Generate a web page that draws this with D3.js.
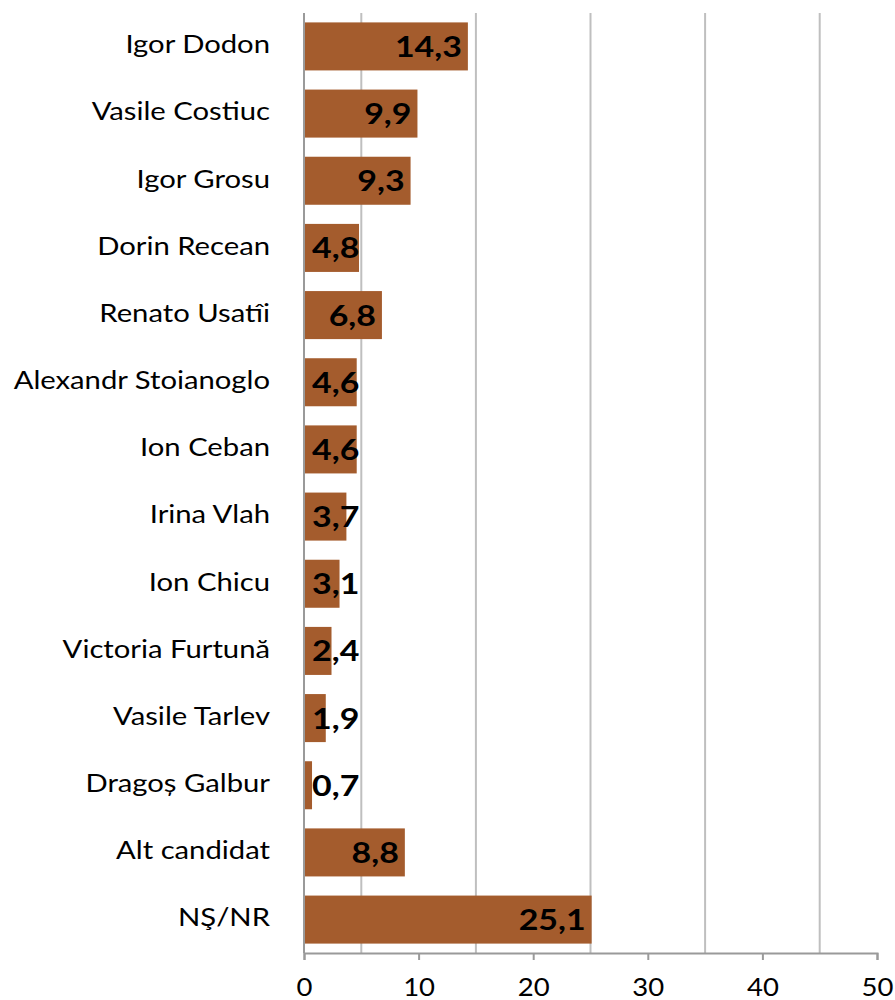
<!DOCTYPE html>
<html>
<head>
<meta charset="utf-8">
<script src="https://cdn.jsdelivr.net/npm/d3@7"></script>
<style>
  body { margin: 0; background: #fff; }
  svg text { font-family: Lato, "Open Sans", sans-serif; }
</style>
</head>
<body>
<div id="chart"></div>
<script>
// candidates, top to bottom
const candidates = [
    'Igor Dodon', 'Vasile Costiuc', 'Igor Grosu', 'Dorin Recean', 'Renato Usatîi',
    'Alexandr Stoianoglo', 'Ion Ceban', 'Irina Vlah', 'Ion Chicu', 'Victoria Furtună',
    'Vasile Tarlev', 'Dragoș Galbur', 'Alt candidat', 'NŞ/NR'
];
const shares = [14.3, 9.9, 9.3, 4.8, 6.8, 4.6, 4.6, 3.7, 3.1, 2.4, 1.9, 0.7, 8.8, 25.1];
const xTicks = [0, 10, 20, 30, 40, 50];
const gridValues = [5, 15, 25, 35, 45];

const width = 895, height = 1000;
const margin = { top: 13, right: 18, bottom: 47, left: 304 };
const stretch = 1.17; // the reference font runs wider than Lato

const svg = d3.select('#chart').append('svg')
    .attr('width', width)
    .attr('height', height);

const x = d3.scaleLinear()
    .domain([0, 50])
    .range([margin.left, width - margin.right]);

const y = d3.scaleBand()
    .domain(candidates)
    .range([margin.top, height - margin.bottom])
    .paddingInner(0.285)
    .paddingOuter(0.14);

// vertical gridlines
svg.append('g')
    .selectAll('line')
    .data(gridValues)
    .join('line')
    .attr('x1', d => x(d))
    .attr('x2', d => x(d))
    .attr('y1', margin.top)
    .attr('y2', height - margin.bottom)
    .attr('stroke', '#bfbfbf')
    .attr('stroke-width', 2);

// bars
svg.append('g')
    .selectAll('rect')
    .data(shares)
    .join('rect')
    .attr('x', x(0))
    .attr('y', (d, i) => y(candidates[i]))
    .attr('width', d => x(d) - x(0))
    .attr('height', y.bandwidth())
    .attr('fill', '#a45c2d');

// left axis line
svg.append('line')
    .attr('x1', x(0)).attr('x2', x(0))
    .attr('y1', margin.top).attr('y2', height - margin.bottom)
    .attr('stroke', '#9a9a9a')
    .attr('stroke-width', 2);

// bottom axis
const xAxis = svg.append('g')
    .attr('transform', `translate(0,${height - margin.bottom})`)
    .call(d3.axisBottom(x).tickValues(xTicks).tickSize(7).tickPadding(18).tickFormat(d3.format('d')));
xAxis.select('.domain').attr('stroke', '#9a9a9a').attr('stroke-width', 2);
xAxis.selectAll('.tick line').attr('stroke', '#9a9a9a').attr('stroke-width', 2);
xAxis.selectAll('.tick text')
    .attr('fill', '#000')
    .attr('transform', 'scale(1.1,1)')
    .style('font-size', '25px');

// category labels
svg.append('g')
    .selectAll('text')
    .data(candidates)
    .join('text')
    .attr('transform', d => `translate(${x(0) - 34},${y(d) + y.bandwidth() / 2 - 2}) scale(${stretch},1)`)
    .attr('dy', '0.35em')
    .attr('text-anchor', 'end')
    .style('font-size', '25px')
    .attr('fill', '#000')
    .text(d => d);

// value labels, inside end; pushed right when the bar is too short
const fmt = v => v.toFixed(1).replace('.', ',');
svg.append('g')
    .selectAll('text')
    .data(shares)
    .join('text')
    .attr('dy', '0.36em')
    .attr('text-anchor', 'end')
    .style('font-size', '29px')
    .style('font-weight', 'bold')
    .attr('fill', '#000')
    .text(d => fmt(d))
    .attr('transform', function(d, i) {
        const w = this.getComputedTextLength() * stretch;
        const xr = Math.max(x(d) - 6, x(0) + 8 + w);
        return `translate(${xr},${y(candidates[i]) + y.bandwidth() / 2}) scale(${stretch},1)`;
    });
</script>
</body>
</html>
